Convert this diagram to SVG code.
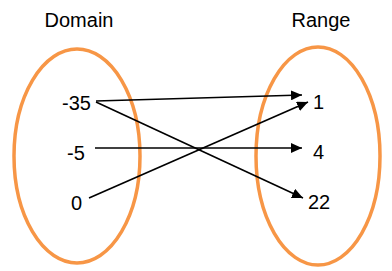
<svg xmlns="http://www.w3.org/2000/svg" width="392" height="271" viewBox="0 0 392 271">
<style>
.set{fill:none;stroke:#F79646;stroke-width:3.5}
.t{font-family:"Liberation Sans",Arial,sans-serif;font-size:20px;fill:#000}
.c{stroke:#000;stroke-width:1.6;fill:none;marker-end:url(#ah)}
</style>
<defs>
<marker id="ah" markerUnits="userSpaceOnUse" markerWidth="12" markerHeight="10" refX="11" refY="5" orient="auto">
<path d="M0,0 L11,5 L0,10 Z" fill="#000"/>
</marker>
</defs>
<rect width="392" height="271" fill="#fff"/>
<g id="domain">
<ellipse class="set" cx="77" cy="156" rx="63" ry="107"/>
<text class="t" x="79" y="27" text-anchor="middle">Domain</text>
</g>
<g id="range">
<ellipse class="set" cx="318" cy="156" rx="62" ry="109"/>
<text class="t" x="321" y="27" text-anchor="middle">Range</text>
</g>
<g id="d-35"><text class="t" x="62" y="110">-35</text></g>
<g id="d-5"><text class="t" x="67" y="160">-5</text></g>
<g id="d0"><text class="t" x="71" y="210">0</text></g>
<g id="r1"><text class="t" x="313" y="109">1</text></g>
<g id="r4"><text class="t" x="313" y="159">4</text></g>
<g id="r22"><text class="t" x="308" y="209">22</text></g>
<g id="connectors">
<line class="c" x1="96" y1="101" x2="302" y2="95"/>
<line class="c" x1="96" y1="102" x2="303" y2="198"/>
<line class="c" x1="95" y1="148" x2="302" y2="148"/>
<line class="c" x1="89" y1="198" x2="308" y2="102"/>
</g>
</svg>
